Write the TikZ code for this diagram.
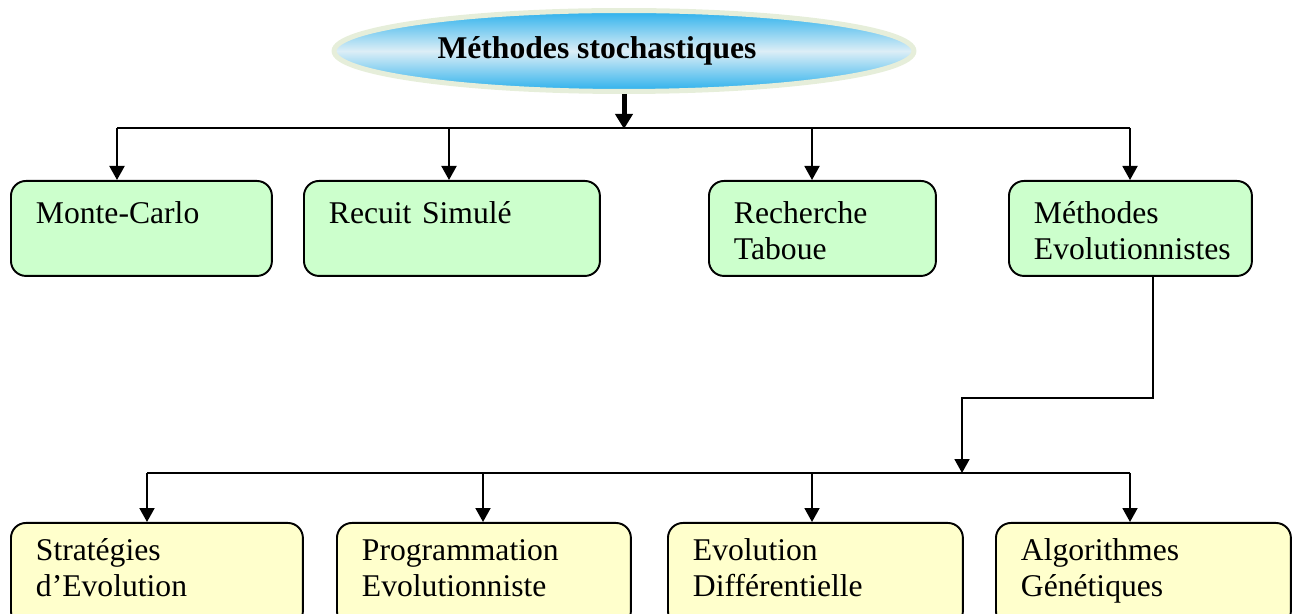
\documentclass[tikz,border=0pt]{standalone}
\usepackage{fontspec}
\setmainfont{Liberation Serif}
\usetikzlibrary{arrows.meta,shapes.geometric}
\definecolor{boxgreen}{HTML}{CCFFCC}
\definecolor{boxyellow}{HTML}{FFFFCC}
\definecolor{titleblue}{HTML}{2AB0EC}
\definecolor{titlelight}{HTML}{DCEEF6}
\definecolor{titlerim}{HTML}{E6EEDA}

\begin{document}
\begin{tikzpicture}[x=0.02cm, y=-0.02cm, line width=1.1pt,
    every node/.style={font=\fontsize{18pt}{20.4pt}\selectfont},
    method/.style={draw, rounded corners=0.3cm, anchor=north west, align=left, inner xsep=0.5cm, inner ysep=0pt, fill=boxgreen, text height=0.86cm, text depth=1.04cm},
    variant/.style={method, fill=boxyellow, text height=0.76cm, text depth=1.3cm},
    arr/.style={-{Triangle[width=0.3cm, length=0.28cm]}}]
    \useasboundingbox (0,0) rectangle (1305,614);
    \clip (0,0) rectangle (1305,614);
    \node[ellipse, draw=titlerim, line width=0.1cm, shading=axis, top color=titleblue, bottom color=titleblue, middle color=titlelight, minimum width=11.6cm, minimum height=1.62cm, inner sep=0pt, font=\fontsize{18pt}{20.4pt}\selectfont\bfseries] (title) at (624,51) {Méthodes stochastiques\hspace*{1.08cm}};
    \node[method, text width=4.22cm] (montecarlo) at (10,180) {Monte-Carlo};
    \node[method, text width=4.92cm] (recuit) at (303,180) {Recuit Simulé};
    \node[method, text width=3.54cm] (tabou) at (708,180) {Recherche\\Taboue};
    \node[method, text width=3.86cm] (evolution) at (1008,180) {Méthodes\\Evolutionnistes};
    \node[variant, text width=4.84cm] (strategies) at (10,522) {Stratégies\\d’Evolution};
    \node[variant, text width=4.88cm] (programmation) at (336,522) {Programmation\\Evolutionniste};
    \node[variant, text width=4.90cm] (differentielle) at (667,522) {Evolution\\Différentielle};
    \node[variant, text width=4.90cm] (genetiques) at (995,522) {Algorithmes\\Génétiques};
    \draw[line width=0.1cm, -{Triangle[width=0.34cm, length=0.3cm]}] (title.south) -- ++(0,35) coordinate (bus1);
    \coordinate (a1) at (117,128);
    \coordinate (a2) at (449,128);
    \coordinate (a3) at (812,128);
    \coordinate (a4) at (1130,128);
    \draw (a1) -- (a4);
    \draw[arr] (a1) -- (a1 |- montecarlo.north);
    \draw[arr] (a2) -- (a2 |- recuit.north);
    \draw[arr] (a3) -- (a3 |- tabou.north);
    \draw[arr] (a4) -- (a4 |- evolution.north);
    \coordinate (turn) at (962,398);
    \coordinate (b0) at (962,473);
    \draw[arr] ([xshift=0.45cm]evolution.south) |- (turn) -- (b0);
    \coordinate (b1) at (147,473);
    \coordinate (b2) at (483,473);
    \coordinate (b3) at (812,473);
    \coordinate (b4) at (1130,473);
    \draw (b1) -- (b4);
    \draw[arr] (b1) -- (b1 |- strategies.north);
    \draw[arr] (b2) -- (b2 |- programmation.north);
    \draw[arr] (b3) -- (b3 |- differentielle.north);
    \draw[arr] (b4) -- (b4 |- genetiques.north);
\end{tikzpicture}
\end{document}
